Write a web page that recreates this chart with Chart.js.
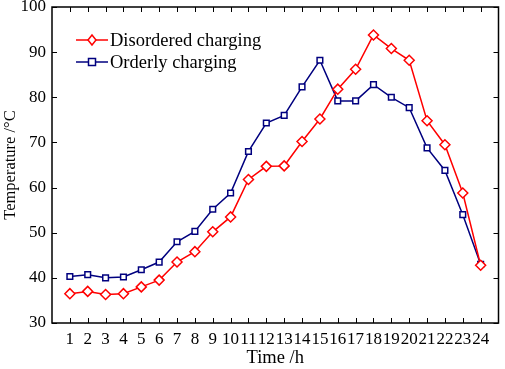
<!DOCTYPE html>
<html>
<head>
<meta charset="utf-8">
<script src="https://cdn.jsdelivr.net/npm/chart.js@4/dist/chart.umd.min.js"></script>
<style>
  html, body { margin: 0; padding: 0; background: #fff; }
  #wrap { width: 505px; height: 369px; }
</style>
</head>
<body>
<div id="wrap"><canvas id="c"></canvas></div>
<script>
const hours = [1, 2, 3, 4, 5, 6, 7, 8, 9, 10, 11, 12, 13, 14, 15, 16, 17, 18, 19, 20, 21, 22, 23, 24];
const disordered = [36.5, 37, 36.3, 36.5, 38, 39.5, 43.5, 45.8, 50.2, 53.5, 61.8, 64.7, 64.8, 70.2, 75.2, 81.8, 86.2, 93.8, 90.8, 88.2, 74.8, 69.5, 58.8, 42.8];
const orderly = [40.3, 40.7, 40, 40.2, 41.8, 43.5, 48, 50.3, 55.2, 58.8, 68, 74.3, 76, 82.3, 88.2, 79.2, 79.2, 82.8, 80, 77.7, 68.8, 63.8, 54, 43];
const yTicks = [30, 40, 50, 60, 70, 80, 90, 100];

const FONT = "'Liberation Serif', 'DejaVu Serif', serif";
const RED = '#ff0000';
const BLUE = '#00007f';

// box around the plot with inward ticks on every side
const framePlugin = {
  id: 'frame',
  afterDraw(chart) {
    const { ctx, chartArea: a, scales } = chart;
    ctx.save();
    ctx.strokeStyle = '#000';
    ctx.lineWidth = 1;
    ctx.beginPath();
    hours.forEach(h => {
      const x = Math.round(scales.x.getPixelForValue(h)) + 0.5;
      ctx.moveTo(x, a.bottom); ctx.lineTo(x, a.bottom - 5);
      ctx.moveTo(x, a.top); ctx.lineTo(x, a.top + 5);
    });
    yTicks.forEach(v => {
      const y = Math.round(scales.y.getPixelForValue(v)) + 0.5;
      ctx.moveTo(a.left, y); ctx.lineTo(a.left + 5, y);
      ctx.moveTo(a.right, y); ctx.lineTo(a.right - 5, y);
    });
    ctx.stroke();
    ctx.lineWidth = 1.5;
    ctx.strokeRect(a.left, a.top, a.right - a.left, a.bottom - a.top);
    ctx.restore();
  }
};

// legend drawn inside the plot, top left
const legendPlugin = {
  id: 'innerLegend',
  afterDatasetsDraw(chart) {
    const { ctx, chartArea: a } = chart;
    ctx.save();
    ctx.font = '18.5px ' + FONT;
    ctx.textBaseline = 'middle';
    chart.data.datasets.forEach((ds, i) => {
      const y = a.top + 33 + i * 22;
      const x0 = a.left + 24, x1 = a.left + 56;
      ctx.strokeStyle = ds.borderColor;
      ctx.lineWidth = 1.5;
      ctx.beginPath(); ctx.moveTo(x0, y); ctx.lineTo(x1, y); ctx.stroke();
      const cx = (x0 + x1) / 2;
      ctx.fillStyle = '#fff';
      ctx.beginPath();
      if (ds.pointStyle === 'rectRot') {
        ctx.moveTo(cx, y - 5); ctx.lineTo(cx + 4, y); ctx.lineTo(cx, y + 5); ctx.lineTo(cx - 4, y); ctx.closePath();
      } else {
        ctx.rect(cx - 3.5, y - 3.5, 7, 7);
      }
      ctx.fill(); ctx.stroke();
      ctx.fillStyle = '#000';
      ctx.fillText(ds.label, x1 + 2, y + 1);
    });
    ctx.restore();
  }
};

new Chart(document.getElementById('c'), {
  type: 'line',
  data: {
    labels: hours,
    datasets: [
      {
        label: 'Disordered charging',
        data: hours.map((h, i) => ({ x: h, y: disordered[i] })),
        borderColor: RED,
        backgroundColor: '#fff',
        borderWidth: 1.5,
        pointStyle: 'rectRot',
        pointRadius: 5,
        pointBorderWidth: 1.5,
        tension: 0
      },
      {
        label: 'Orderly charging',
        data: hours.map((h, i) => ({ x: h, y: orderly[i] })),
        borderColor: BLUE,
        backgroundColor: '#fff',
        borderWidth: 1.5,
        pointStyle: 'rect',
        pointRadius: 4,
        pointBorderWidth: 1.5,
        tension: 0
      }
    ]
  },
  options: {
    responsive: true,
    maintainAspectRatio: false,
    animation: false,
    layout: { padding: { left: 0, right: 3, top: 7, bottom: 0 } },
    plugins: { legend: { display: false }, tooltip: { enabled: false } },
    scales: {
      x: {
        type: 'linear',
        min: 0,
        max: 25,
        afterBuildTicks: s => { s.ticks = hours.map(v => ({ value: v })); },
        grid: { display: false, drawTicks: false },
        border: { display: false },
        ticks: { color: '#000', font: { family: FONT, size: 17 }, padding: 6, maxRotation: 0, autoSkip: false },
        title: { display: true, text: 'Time /h', color: '#000', font: { family: FONT, size: 18.5 }, padding: { top: 0, bottom: 0 } },
        afterFit: s => { s.height = 46; s.paddingLeft = 0; s.paddingRight = 0; }
      },
      y: {
        min: 30,
        max: 100,
        afterBuildTicks: s => { s.ticks = yTicks.map(v => ({ value: v })); },
        grid: { display: false, drawTicks: false },
        border: { display: false },
        ticks: { color: '#000', font: { family: FONT, size: 17 }, padding: 6 },
        title: { display: true, text: 'Temperature /°C', color: '#000', font: { family: FONT, size: 16.5 }, padding: { top: 1, bottom: 0 } },
        afterFit: s => { s.width = 52; s.paddingTop = 0; s.paddingBottom = 0; }
      }
    }
  },
  plugins: [framePlugin, legendPlugin]
});
</script>
</body>
</html>
